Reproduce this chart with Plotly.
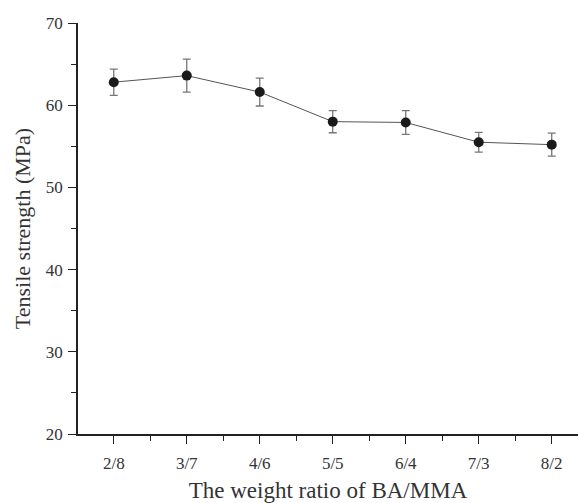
import plotly.graph_objects as go

ratios = ["2/8", "3/7", "4/6", "5/5", "6/4", "7/3", "8/2"]
strength = [62.8, 63.6, 61.6, 58.0, 57.9, 55.5, 55.2]
err = [1.6, 2.0, 1.7, 1.35, 1.45, 1.2, 1.4]

xpos = list(range(len(ratios)))

fig = go.Figure()
fig.add_trace(go.Scatter(
    x=xpos, y=strength, mode="lines+markers",
    line=dict(color="#555555", width=1),
    marker=dict(color="#1a1a1a", size=10),
    error_y=dict(type="data", array=err, color="#777777", thickness=1.3, width=4),
))

font = "Liberation Serif, Times New Roman, serif"
fig.update_layout(
    width=578, height=503,
    margin=dict(l=78, r=0, t=23, b=66),
    plot_bgcolor="white", paper_bgcolor="white",
    showlegend=False,
    font=dict(family=font, color="#333333"),
    xaxis=dict(
        range=[-0.49, 6.36], tickmode="array", tickvals=xpos, ticktext=ratios,
        showgrid=False, zeroline=False, showline=True, linecolor="#222222", linewidth=1.5,
        ticks="outside", ticklen=8, tickwidth=1.2, tickcolor="#222222",
        tickfont=dict(size=17, family=font), ticklabelstandoff=5,
        minor=dict(tickvals=[i + 0.5 for i in range(-1, 7)], ticks="outside", ticklen=5, tickcolor="#222222"),
        title=dict(text="The weight ratio of BA/MMA", font=dict(size=23, family=font), standoff=14),
    ),
    yaxis=dict(
        range=[20, 70], tickvals=[20, 30, 40, 50, 60, 70],
        showgrid=False, zeroline=False, showline=True, linecolor="#222222", linewidth=1.5,
        ticks="outside", ticklen=8, tickwidth=1.2, tickcolor="#222222",
        tickfont=dict(size=17, family=font), ticklabelstandoff=2,
        minor=dict(tickvals=[25, 35, 45, 55, 65], ticks="outside", ticklen=5, tickcolor="#222222"),
        title=dict(text="Tensile strength (MPa)", font=dict(size=22, family=font), standoff=9),
    ),
)

fig.write_html("out.html")
